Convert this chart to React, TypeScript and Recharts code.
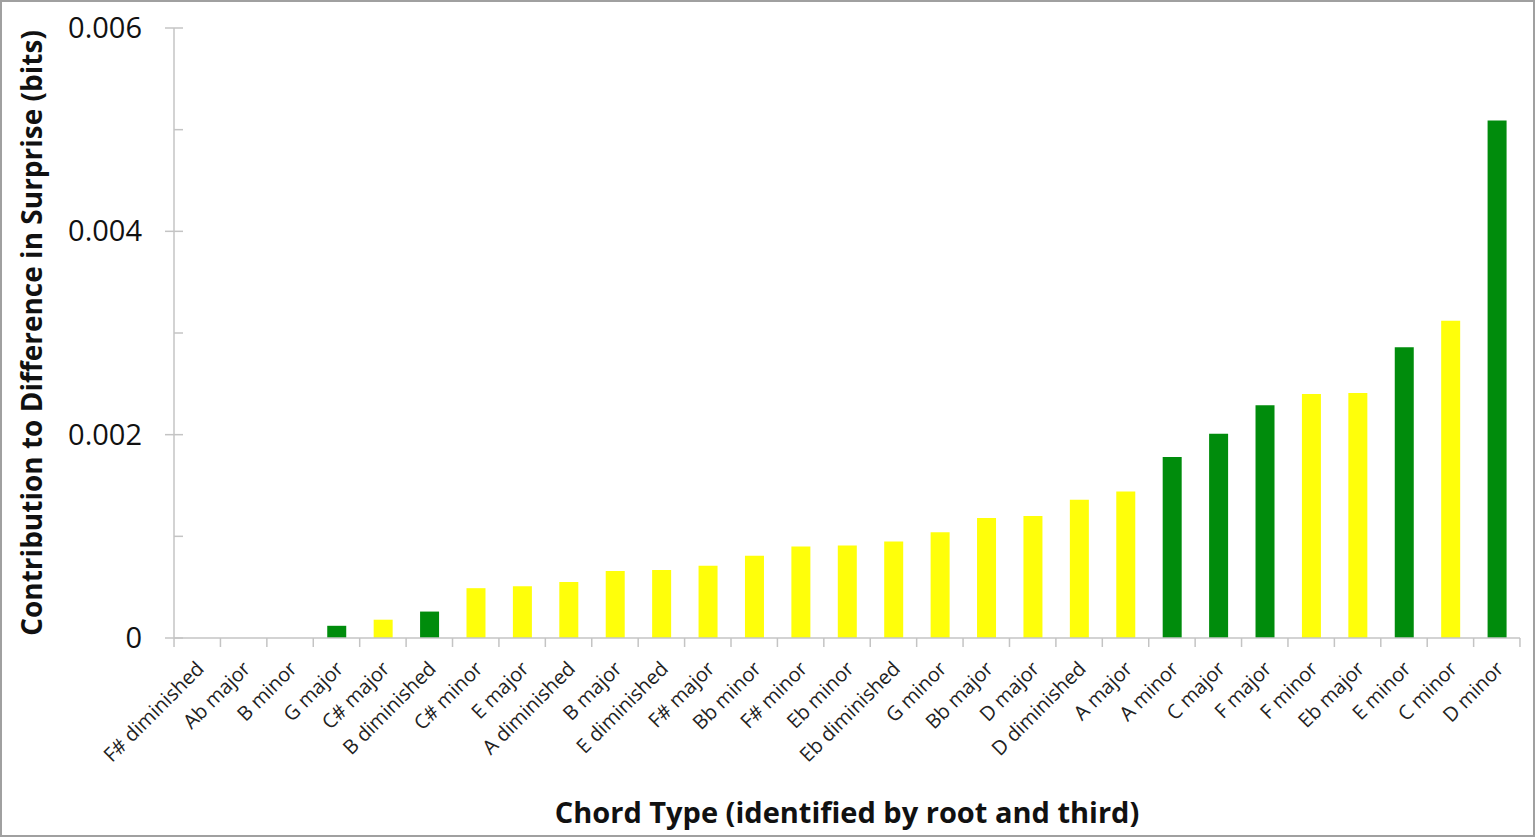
import React from 'react';
import { BarChart, Bar, XAxis, YAxis, Cell, Label } from 'recharts';

// chords sorted by their contribution
const chords = [
  'F# diminished', 'Ab major', 'B minor', 'G major', 'C# major', 'B diminished',
  'C# minor', 'E major', 'A diminished', 'B major', 'E diminished', 'F# major',
  'Bb minor', 'F# minor', 'Eb minor', 'Eb diminished', 'G minor', 'Bb major',
  'D major', 'D diminished', 'A major', 'A minor', 'C major', 'F major',
  'F minor', 'Eb major', 'E minor', 'C minor', 'D minor'
];

const contribution = [
  0, 0, 0, 0.00012, 0.00018, 0.00026,
  0.00049, 0.00051, 0.00055, 0.00066, 0.00067, 0.00071,
  0.00081, 0.0009, 0.00091, 0.00095, 0.00104, 0.00118,
  0.0012, 0.00136, 0.00144, 0.00178, 0.00201, 0.00229,
  0.0024, 0.00241, 0.00286, 0.00312, 0.00509
];

// chords belonging to the key of C major get the green bars
const diatonic = ['C major', 'D minor', 'E minor', 'F major', 'G major', 'A minor', 'B diminished'];

const yTicks = [0, 0.001, 0.002, 0.003, 0.004, 0.005, 0.006];
const yLabels = [0, 0.002, 0.004, 0.006];

const data = chords.map((name, i) => ({ name, value: contribution[i] }));

const FONT = '"Open Sans", Lato, sans-serif';
const AXIS = '#c4c4c4';
const PLOT_W = 1344;
const HALF_BAND = PLOT_W / chords.length / 2;

const YTick = ({ x, y, payload }: any) => {
  const major = yLabels.includes(payload.value);
  return (
    <g>
      <line x1={major ? x - 9 : x} x2={x + 9} y1={y} y2={y} stroke={AXIS} strokeWidth={1.5} />
      {major && (
        <text x={x - 32} y={y} dy={10} textAnchor="end" fontSize={29} fill="#111" fontFamily={FONT}>
          {payload.value === 0 ? '0' : payload.value.toFixed(3)}
        </text>
      )}
    </g>
  );
};

const XTick = ({ x, y, payload, index }: any) => {
  const last = index === chords.length - 1;
  const tx = x + 8;
  const ty = y + 32;
  return (
    <g>
      <line x1={x - HALF_BAND} x2={x - HALF_BAND} y1={y} y2={y + 9} stroke={AXIS} strokeWidth={1.5} />
      {last && <line x1={x + HALF_BAND} x2={x + HALF_BAND} y1={y} y2={y + 9} stroke={AXIS} strokeWidth={1.5} />}
      <text
        x={tx}
        y={ty}
        textAnchor="end"
        fontSize={20}
        fill="#222"
        fontFamily={FONT}
        transform={`rotate(-45, ${tx}, ${ty})`}
      >
        {payload.value}
      </text>
    </g>
  );
};

const App: React.FC = () => {
  return (
    <div
      style={{
        position: 'absolute',
        left: 0,
        top: 0,
        width: 1535,
        height: 837,
        boxSizing: 'border-box',
        border: '2px solid #a0a0a0',
        background: '#fff'
      }}
    >
      <BarChart
        width={1531}
        height={833}
        data={data}
        margin={{ top: 26, right: 13, left: 0, bottom: 0 }}
        barCategoryGap={0}
      >
        <XAxis
          dataKey="name"
          interval={0}
          tickLine={false}
          tickSize={0}
          tickMargin={0}
          stroke={AXIS}
          strokeWidth={1.5}
          height={197}
          tick={<XTick />}
        >
          <Label
            value="Chord Type (identified by root and third)"
            position="insideBottom"
            offset={12}
            style={{ fontSize: 29, fontWeight: 700, fill: '#111', fontFamily: FONT }}
          />
        </XAxis>
        <YAxis
          domain={[0, 0.006]}
          ticks={yTicks}
          interval={0}
          tickLine={false}
          tickSize={0}
          tickMargin={0}
          width={172}
          stroke={AXIS}
          strokeWidth={1.5}
          tick={<YTick />}
        >
          <Label
            value="Contribution to Difference in Surprise (bits)"
            angle={-90}
            position="insideLeft"
            offset={30}
            style={{ textAnchor: 'middle', fontSize: 28, fontWeight: 700, fill: '#111', fontFamily: FONT }}
          />
        </YAxis>
        <Bar dataKey="value" barSize={19} isAnimationActive={false}>
          {data.map((d) => (
            <Cell key={d.name} fill={diatonic.includes(d.name) ? '#008c0c' : '#ffff0a'} />
          ))}
        </Bar>
      </BarChart>
    </div>
  );
};

export default App;
